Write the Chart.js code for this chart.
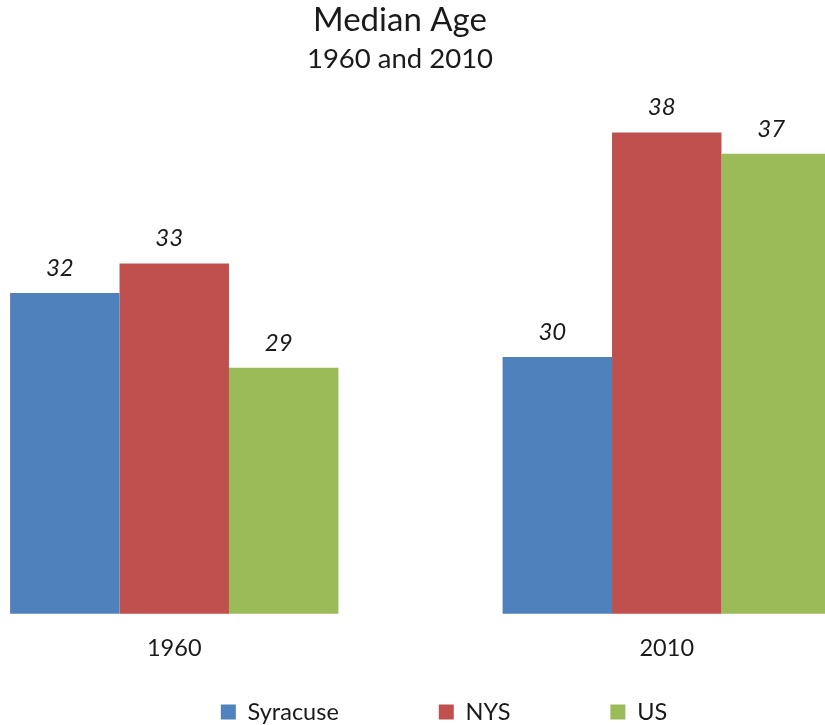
<!DOCTYPE html>
<html>
<head>
<meta charset="utf-8">
<title>Median Age</title>
<script src="https://cdn.jsdelivr.net/npm/chart.js@4.4.1/dist/chart.umd.min.js"></script>
<style>
  html, body { margin: 0; padding: 0; background: #fff; overflow: hidden; }
  body { width: 825px; height: 725px; position: relative; }
  /* the plot runs past both window edges, like the cropped original */
  #chart { position: absolute; left: -113px; top: 0; }
</style>
</head>
<body>
<canvas id="chart" width="1026" height="725"></canvas>
<script>
// ── Data ──────────────────────────────────────────────────────────────────────
const YEARS    = ['1960', '2010'];
const SYRACUSE = [32.0, 29.6];
const NYS      = [33.1, 38.0];
const US       = [29.2, 37.2];

const Y_MIN = 20;
const Y_MAX = 40;

// ── Style ─────────────────────────────────────────────────────────────────────
const FONT       = 'Lato';
const TEXT_COLOR = '#1a1a1a';
const COLORS     = { Syracuse: '#4F81BD', NYS: '#C0504D', US: '#9BBB59' };

const LEGEND_FONT  = 23.5;
const LEGEND_PAD   = 100;
const LEGEND_Y     = 712;   // centre line of the legend row
const LEGEND_SHIFT = 44;    // legend sits right of the title centre

Chart.defaults.font.family = FONT;
Chart.defaults.color = TEXT_COLOR;

// value labels above each bar (italic, rounded)
const valueLabels = {
  id: 'valueLabels',
  afterDatasetsDraw(chart) {
    const ctx = chart.ctx;
    ctx.save();
    ctx.font = `italic 24px ${FONT}`;
    ctx.fillStyle = TEXT_COLOR;
    ctx.textAlign = 'center';
    ctx.textBaseline = 'middle';
    chart.data.datasets.forEach((ds, i) => {
      chart.getDatasetMeta(i).data.forEach((bar, j) => {
        ctx.fillText(String(Math.round(ds.data[j])), bar.x - 5, bar.y - 25);
      });
    });
    ctx.restore();
  },
};

// move the legend row to where the original puts it
const legendSpot = {
  id: 'legendSpot',
  afterLayout(chart) {
    const lg = chart.legend;
    lg.left  += LEGEND_SHIFT;
    lg.right += LEGEND_SHIFT;
    lg.top    = LEGEND_Y - LEGEND_PAD - LEGEND_FONT / 2;
    lg.bottom = chart.height;
  },
};

const dataset = (label, data) => ({
  label,
  data,
  backgroundColor: COLORS[label],
  borderWidth: 0,
  categoryPercentage: 2 / 3,
  barPercentage: 1,
});

new Chart(document.getElementById('chart'), {
  type: 'bar',
  data: {
    labels: YEARS,
    datasets: [
      dataset('Syracuse', SYRACUSE),
      dataset('NYS', NYS),
      dataset('US', US),
    ],
  },
  options: {
    responsive: false,
    animation: false,
    devicePixelRatio: 1,
    layout: { padding: 0 },
    scales: {
      x: {
        grid: { display: false, drawTicks: false },
        border: { display: false },
        ticks: {
          padding: 21,
          maxRotation: 0,
          color: TEXT_COLOR,
          font: { size: 23.5, lineHeight: 1.2 },
        },
      },
      y: {
        min: Y_MIN,
        max: Y_MAX,
        grid: { display: false, drawTicks: false },
        border: { display: false },
        ticks: { display: false },
        afterFit(scale) { scale.width = 41; },
      },
    },
    plugins: {
      title: {
        display: true,
        text: 'Median Age',
        color: TEXT_COLOR,
        font: { size: 33, weight: 'normal', lineHeight: 1.2 },
        padding: { top: 0.2, bottom: 0 },
      },
      subtitle: {
        display: true,
        text: '1960 and 2010',
        color: TEXT_COLOR,
        font: { size: 27.5, weight: 'normal', lineHeight: 1.2 },
        padding: { top: 2.7, bottom: 3.5 },
      },
      legend: {
        position: 'bottom',
        maxHeight: 41,
        labels: {
          boxWidth: 15,
          boxHeight: 15,
          padding: LEGEND_PAD,
          color: TEXT_COLOR,
          font: { size: LEGEND_FONT },
        },
      },
      tooltip: { enabled: false },
    },
  },
  plugins: [valueLabels, legendSpot],
});
</script>
</body>
</html>
